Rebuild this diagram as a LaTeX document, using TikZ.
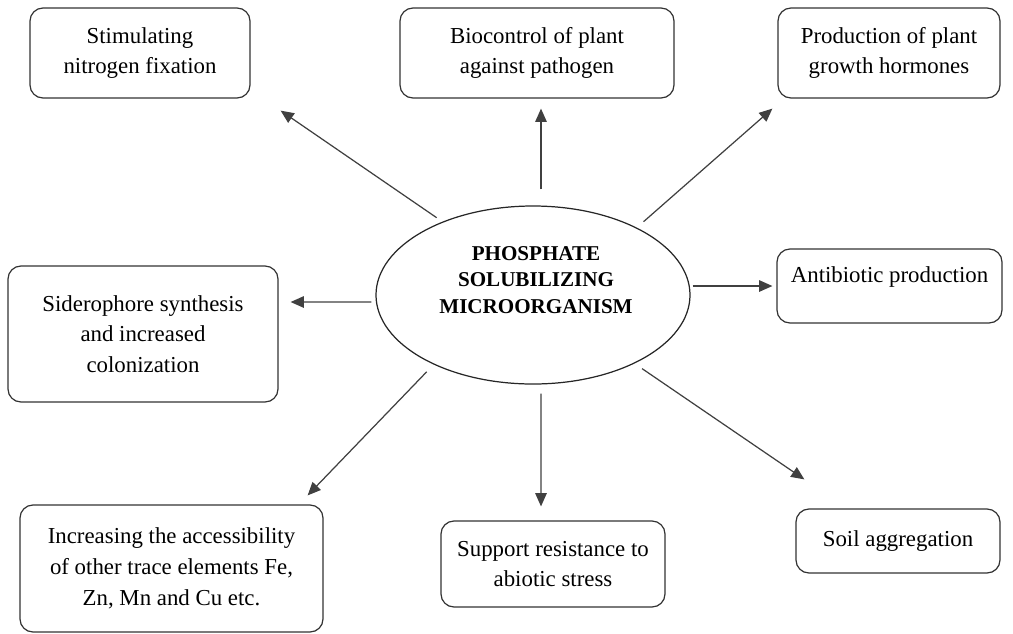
\documentclass[tikz,border=0pt]{standalone}
\usepackage{fontspec}
\setmainfont{Liberation Serif}
\usetikzlibrary{arrows.meta,shapes.geometric}

\begin{document}
\begin{tikzpicture}[>={Triangle[length=7.5pt,width=6.5pt]}, line width=0.7pt,
    box/.style={draw=black!80, rounded corners=0.26cm, align=center, font=\fontsize{13}{17.5}\selectfont},
    arr/.style={->, black!75},
    hub/.style={draw=black!85, ellipse, minimum width=6.28cm, minimum height=3.56cm, inner sep=0pt}]
    % 边界
    \useasboundingbox (0,0) rectangle (20.26,-12.66);

    % 中心椭圆
    \node[hub] (psm) at (10.66,-5.90) {};
    \node[align=center, font=\bfseries\fontsize{12}{15}\selectfont] (psmtext) at (10.72,-5.60) {PHOSPHATE\\SOLUBILIZING\\MICROORGANISM};

    % 周围的方框
    \node[box, minimum width=4.40cm, minimum height=1.80cm] (fix) at (2.80,-1.06) {Stimulating\\nitrogen fixation};
    \node[box, minimum width=5.48cm, minimum height=1.80cm] (bio) at (10.74,-1.06) {Biocontrol of plant\\against pathogen};
    \node[box, minimum width=4.44cm, minimum height=1.80cm] (horm) at (17.78,-1.06) {Production of plant\\growth hormones};
    \node[box, minimum width=5.40cm, minimum height=2.72cm] (sid) at (2.86,-6.68) {Siderophore synthesis\\and increased\\colonization};
    \node[box, minimum width=4.50cm, minimum height=1.48cm, text depth=0.44cm] (anti) at (17.79,-5.72) {Antibiotic production};
    \node[box, minimum width=6.06cm, minimum height=2.54cm] (trace) at (3.43,-11.37) {Increasing the accessibility\\of other trace elements Fe,\\Zn, Mn and Cu etc.};
    \node[box, minimum width=4.48cm, minimum height=1.72cm] (stress) at (11.06,-11.28) {Support resistance to\\abiotic stress};
    \node[box, minimum width=4.08cm, minimum height=1.28cm] (soil) at (17.96,-10.82) {Soil aggregation};

    % 箭头
    \draw[arr, shorten <=0.14cm] (psm.141) -- ([shift={(0.60,-0.24)}]fix.south east);
    \draw[arr] ([shift={(0.16,0.32)}]psm.north) -- ([shift={(0.08,-0.20)}]bio.south);
    \draw[arr, shorten <=0.18cm] (psm.33) -- ([shift={(-0.10,-0.20)}]horm.south west);
    \draw[arr] ([shift={(-0.08,-0.14)}]psm.west) -- ([shift={(0.24,0.64)}]sid.east);
    \draw[arr] ([shift={(0.04,0.18)}]psm.east) -- ([xshift=-0.08cm]anti.west);
    \draw[arr, shorten <=0.20cm] (psm.215) -- ([shift={(-0.32,0.18)}]trace.north east);
    \draw[arr] ([shift={(0.16,-0.18)}]psm.south) -- ([shift={(-0.24,0.28)}]stress.north);
    \draw[arr, shorten <=0.18cm] (psm.-34) -- ([shift={(0.18,0.58)}]soil.north west);
\end{tikzpicture}
\end{document}
